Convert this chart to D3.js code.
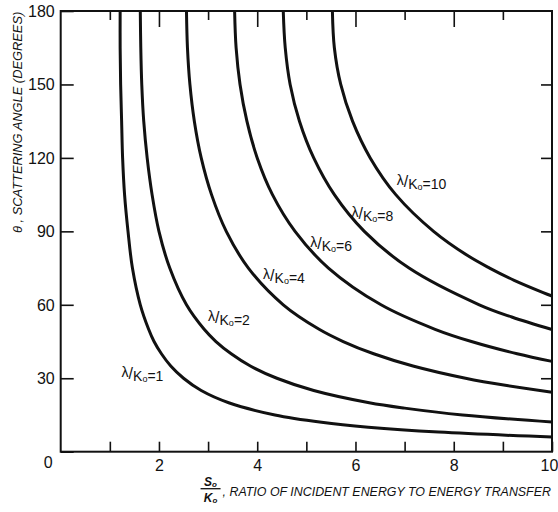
<!DOCTYPE html>
<html>
<head>
<meta charset="utf-8">
<script src="https://cdn.jsdelivr.net/npm/d3@7"></script>
<style>
  body { margin: 0; background: #fff; }
  text { font-family: "Liberation Sans", Arial, sans-serif; fill: #111; }
</style>
</head>
<body>
<div id="chart"></div>
<script>
var svgWidth = 558;
var svgHeight = 512;

var margin = { top: 11, right: 6, bottom: 60.3, left: 60.7 };
var width = svgWidth - margin.left - margin.right;
var height = svgHeight - margin.top - margin.bottom;

// curves: [S0/K0, theta (deg)]
var lam1 = [[1.21,180],[1.21,165],[1.22,150],[1.24,135],[1.26,120],[1.30,105],[1.37,90],[1.46,75],[1.62,60],[1.79,50],[1.90,45],[2.05,40],[2.24,35],[2.50,30],[2.86,25],[3.42,20],[4.36,15],[5.31,12],[6.26,10],[7.69,8],[10,6.0]];
var lam2 = [[1.62,180],[1.63,165],[1.65,150],[1.69,135],[1.76,120],[1.86,105],[2.00,90],[2.22,75],[2.56,60],[2.92,50],[3.16,45],[3.47,40],[3.86,35],[4.40,30],[5.15,25],[6.28,20],[7.00,17.8],[8.18,15],[10,12.1]];
var lam4 = [[2.56,180],[2.58,165],[2.63,150],[2.72,135],[2.86,120],[3.07,105],[3.37,90],[3.82,75],[4.53,60],[5.26,50],[5.75,45],[6.37,40],[7.17,35],[8.24,30],[9.08,27],[10,24.3]];
var lam6 = [[3.54,180],[3.57,165],[3.65,150],[3.79,135],[4.00,120],[4.31,105],[4.77,90],[5.45,75],[6.52,60],[7.62,50],[8.36,45],[9.29,40],[10,36.9]];
var lam8 = [[4.53,180],[4.57,165],[4.67,150],[4.86,135],[5.15,120],[5.57,105],[6.18,90],[7.09,75],[8.52,60],[9.18,55],[10,49.9]];
var lam10 = [[5.53,180],[5.57,165],[5.70,150],[5.94,135],[6.30,120],[6.82,105],[7.59,90],[8.29,80],[8.73,75],[9.23,70],[9.82,65],[10,63.6]];

var curveNames = ["1", "2", "4", "6", "8", "10"];
var labelX = [1.24, 3.00, 4.12, 5.08, 5.92, 6.84];
var labelTheta = [29.0, 51.7, 69.0, 81.9, 94.2, 107.2];

var xTicks = [1, 2, 3, 4, 5, 6, 7, 8, 9, 10];
var xTickLabels = [2, 4, 6, 8, 10];
var yTicks = [0, 30, 60, 90, 120, 150, 180];

var svg = d3.select("#chart")
  .append("svg")
  .attr("width", svgWidth)
  .attr("height", svgHeight);

var chartGroup = svg.append("g")
  .attr("transform", `translate(${margin.left}, ${margin.top})`);

var xScale = d3.scaleLinear().domain([0, 10]).range([0, width]);
var yScale = d3.scaleLinear().domain([0, 180]).range([height, 0]);

// bottom axis, ticks point inward
var bottomAxis = d3.axisBottom(xScale)
  .tickValues(xTicks)
  .tickSize(-10)
  .tickSizeOuter(0)
  .tickPadding(8)
  .tickFormat(d => xTickLabels.indexOf(d) >= 0 ? d : "");
var gx = chartGroup.append("g")
  .attr("transform", `translate(0, ${height})`)
  .call(bottomAxis);
gx.select(".domain").remove();
gx.selectAll("line").attr("stroke", "#111").attr("stroke-width", 1.6);
gx.selectAll("text").attr("font-size", "16px").attr("fill", "#111")
  .attr("dx", d => d === 10 ? -3 : 0);

// top axis: long ticks on even, short on odd
var topAxis = d3.axisTop(xScale).tickValues(xTicks.slice(0, 9)).tickSize(0).tickFormat("");
var gt = chartGroup.append("g").call(topAxis);
gt.select(".domain").remove();
gt.selectAll(".tick line")
  .attr("y2", d => d % 2 === 0 ? 16 : 9)
  .attr("stroke", "#111").attr("stroke-width", 1.6);

// left axis
var leftAxis = d3.axisLeft(yScale)
  .tickValues(yTicks)
  .tickSize(-13)
  .tickSizeOuter(0)
  .tickPadding(6);
var gy = chartGroup.append("g").call(leftAxis);
gy.select(".domain").remove();
gy.selectAll("line").attr("stroke", "#111").attr("stroke-width", 1.6);
gy.selectAll("text").attr("font-size", "16px").attr("fill", "#111")
  .attr("x", d => d === 0 ? -8 : -6)
  .attr("dy", d => d === 0 ? "1.0em" : "0.34em");

// right axis
var rightAxis = d3.axisRight(yScale).tickValues(yTicks.slice(1, 6)).tickSize(-11).tickFormat("");
var gr = chartGroup.append("g").attr("transform", `translate(${width}, 0)`).call(rightAxis);
gr.select(".domain").remove();
gr.selectAll("line").attr("stroke", "#111").attr("stroke-width", 1.6);

// frame
chartGroup.append("rect")
  .attr("width", width)
  .attr("height", height)
  .attr("fill", "none")
  .attr("stroke", "#111")
  .attr("stroke-width", 2);

// curves
var line = d3.line()
  .x(d => xScale(d[0]))
  .y(d => yScale(d[1]))
  .curve(d3.curveCatmullRom.alpha(0.5));

var allCurves = [lam1, lam2, lam4, lam6, lam8, lam10];
chartGroup.selectAll(".curve")
  .data(allCurves)
  .enter()
  .append("path")
  .attr("class", "curve")
  .attr("d", line)
  .attr("fill", "none")
  .attr("stroke", "#111")
  .attr("stroke-width", 3);

// curve labels  lambda/K0 = n
var labels = chartGroup.selectAll(".lbl")
  .data(curveNames)
  .enter()
  .append("text")
  .attr("class", "lbl")
  .attr("x", (d, i) => xScale(labelX[i]))
  .attr("y", (d, i) => yScale(labelTheta[i]))
  .attr("font-size", "14px");
labels.append("tspan").attr("dy", -4).text("λ");
labels.append("tspan").attr("dy", 2).attr("font-size", "16px").text("/");
labels.append("tspan").attr("dy", 2).text("K");
labels.append("tspan").attr("dy", 1).attr("font-size", "9px").text("o");
labels.append("tspan").attr("dy", -1).text(d => "=" + d);

// y title
chartGroup.append("g")
  .attr("transform", `translate(${22 - margin.left}, ${233 - margin.top}) rotate(-90) scale(0.99, 1)`)
  .append("text")
  .attr("font-size", "13px")
  .attr("font-style", "italic")
  .text("θ , SCATTERING ANGLE (DEGREES)");

// x title with fraction S0/K0
var fx = xScale(3.05);
var num = chartGroup.append("text")
  .attr("x", fx).attr("y", height + 34)
  .attr("text-anchor", "middle")
  .attr("font-size", "12px").attr("font-style", "italic").attr("font-weight", "bold");
num.append("tspan").text("S");
num.append("tspan").attr("font-size", "8px").attr("dy", 1).text("o");
chartGroup.append("line")
  .attr("x1", fx - 10).attr("x2", fx + 10)
  .attr("y1", height + 37).attr("y2", height + 37)
  .attr("stroke", "#111").attr("stroke-width", 1.3);
var den = chartGroup.append("text")
  .attr("x", fx).attr("y", height + 50)
  .attr("text-anchor", "middle")
  .attr("font-size", "12px").attr("font-style", "italic").attr("font-weight", "bold");
den.append("tspan").text("K");
den.append("tspan").attr("font-size", "8px").attr("dy", 1).text("o");

chartGroup.append("g")
  .attr("transform", `translate(${fx + 12}, ${height + 44}) scale(0.955, 1)`)
  .append("text")
  .attr("font-size", "13px")
  .attr("font-style", "italic")
  .text(", RATIO OF INCIDENT ENERGY TO ENERGY TRANSFER");
</script>
</body>
</html>
